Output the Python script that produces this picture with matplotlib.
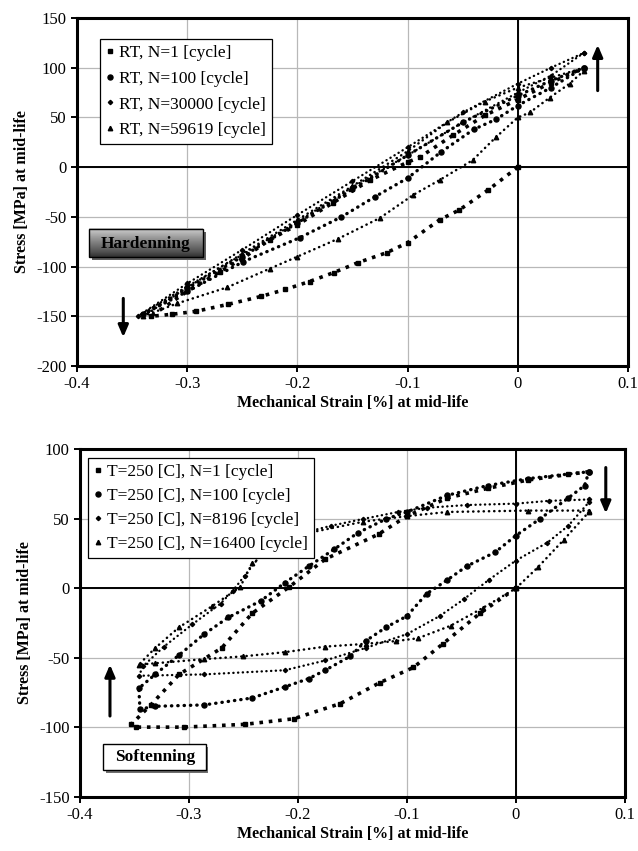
import numpy as np
import matplotlib
matplotlib.use('Agg')
import matplotlib.pyplot as plt

plt.rcParams['font.family'] = ['Liberation Serif', 'DejaVu Serif']
plt.rcParams['axes.unicode_minus'] = False

# ---- room temperature loops (top) ----
rt1_x = [0, -0.027, -0.053, -0.071, -0.1, -0.119, -0.145, -0.167, -0.189, -0.211, -0.233, -0.263, -0.292, -0.314, -0.333,
         -0.3, -0.27, -0.25, -0.225, -0.2, -0.168, -0.134, -0.1, -0.089, -0.059, -0.03, 0, 0.03, 0.06]
rt1_y = [0, -23, -43, -53, -76, -86, -96, -106, -115, -123, -130, -138, -145, -148, -150,
         -125, -105, -92, -73, -58, -36, -13, 5, 10, 32, 52, 68, 85, 100]

rt100_x = [0.06, 0.03, 0, -0.02, -0.04, -0.07, -0.1, -0.13, -0.16, -0.198, -0.249, -0.3, -0.34,
           -0.3, -0.25, -0.2, -0.15, -0.1, -0.05, 0, 0.03, 0.06]
rt100_y = [100, 80, 62, 48, 38, 15, -11, -30, -50, -71, -95, -125, -148,
           -122, -90, -56, -22, 12, 45, 72, 87, 100]

rt30000_x = [0.06, 0.03, 0, -0.05, -0.1, -0.15, -0.2, -0.25, -0.3, -0.345,
             -0.3, -0.25, -0.2, -0.15, -0.1, -0.05, 0, 0.03, 0.06]
rt30000_y = [115, 92, 75, 45, 12, -20, -55, -88, -120, -150,
             -117, -83, -48, -14, 20, 55, 84, 100, 115]

rt59619_x = [0.06, 0.047, 0.029, 0.011, 0, -0.02, -0.041, -0.071, -0.095, -0.125, -0.163, -0.2, -0.225, -0.264, -0.309, -0.34,
             -0.3, -0.25, -0.2, -0.15, -0.1, -0.064, -0.03, 0, 0.03, 0.06]
rt59619_y = [97, 84, 70, 55, 50, 30, 7, -13, -28, -51, -72, -90, -102, -121, -137, -150,
             -121, -87, -53, -19, 16, 45, 66, 80, 90, 100]

rt_labels = ['RT, N=1 [cycle]', 'RT, N=100 [cycle]', 'RT, N=30000 [cycle]', 'RT, N=59619 [cycle]']

# ---- T=250 C loops (bottom) ----
ht1_x = [0, -0.033, -0.067, -0.094, -0.125, -0.161, -0.204, -0.249, -0.305, -0.349,
         -0.353, -0.335, -0.309, -0.27, -0.242, -0.208, -0.175, -0.126, -0.1, -0.063, -0.026, 0.011, 0.048, 0.067]
ht1_y = [0, -18, -40, -57, -68, -83, -94, -98, -100, -100,
         -98, -84, -62, -43, -18, 1, 21, 39, 52, 65, 72, 78, 82, 84]

ht100_x = [0.067, 0.063, 0.048, 0.022, 0, -0.019, -0.045, -0.063, -0.082, -0.1, -0.119, -0.138, -0.152, -0.175, -0.19,
           -0.212, -0.242, -0.286, -0.331, -0.345,
           -0.346, -0.331, -0.309, -0.286, -0.264, -0.234, -0.212, -0.19, -0.167, -0.145, -0.119, -0.1, -0.063, -0.026,
           0.011, 0.067]
ht100_y = [84, 74, 65, 50, 38, 26, 16, 6, -4, -20, -28, -38, -49, -59, -65,
           -71, -79, -84, -85, -87,
           -72, -62, -48, -33, -21, -9, 4, 16, 28, 40, 50, 55, 67, 74,
           79, 84]

ht8196_x = [0.067, 0.03, 0, -0.045, -0.082, -0.108, -0.14, -0.17, -0.2, -0.22, -0.234, -0.249, -0.26, -0.271, -0.297,
            -0.323, -0.342, -0.346,
            -0.286, -0.212, -0.175, -0.138, -0.1, -0.07, -0.048, -0.025, 0, 0.029, 0.048, 0.067]
ht8196_y = [64, 63, 61, 60, 58, 55, 50, 45, 39, 31, 24, 9, -2, -11, -26,
            -42, -56, -63,
            -62, -59, -52, -43, -33, -20, -8, 6, 20, 33, 45, 62]

ht16400_x = [0.067, 0.011, -0.063, -0.1, -0.14, -0.19, -0.219, -0.242, -0.253, -0.279, -0.309, -0.331, -0.346,
             -0.331, -0.286, -0.25, -0.212, -0.175, -0.138, -0.11, -0.09, -0.06, -0.03, 0, 0.02, 0.044, 0.067]
ht16400_y = [56, 56, 55, 52, 48, 40, 30, 18, 1, -13, -28, -43, -55,
             -54, -51, -49, -46, -42, -40, -38, -36, -27, -14, 0, 15, 35, 55]

ht_labels = ['T=250 [C], N=1 [cycle]', 'T=250 [C], N=100 [cycle]',
             'T=250 [C], N=8196 [cycle]', 'T=250 [C], N=16400 [cycle]']

# marker, marker size, dotted line width, dash pattern, capstyle
styles = [('s', 3.2, 2.6, (0, (1.0, 1.6)), 'butt'),
          ('o', 3.6, 2.4, (0, (0.1, 1.8)), 'round'),
          ('D', 2.2, 1.7, (0, (0.1, 1.9)), 'round'),
          ('^', 3.2, 1.8, (0, (0.1, 2.0)), 'round')]


def draw_loops(ax, series, labels):
    handles = []
    for (xs, ys), lab, st in zip(series, labels, styles):
        mk, ms, lw, ls, cap = st
        ax.plot(xs, ys, color='black', lw=lw, linestyle=ls,
                dash_capstyle=cap, zorder=3)
        h, = ax.plot(xs, ys, color='black', marker=mk, ms=ms, lw=0,
                     linestyle='none', label=lab, zorder=4)
        handles.append(h)
    return handles


def style_axes(ax, ylim, yticks):
    ax.set_xlim(-0.4, 0.1)
    ax.set_ylim(*ylim)
    ax.set_xticks([-0.4, -0.3, -0.2, -0.1, 0, 0.1])
    ax.set_xticklabels(['-0.4', '-0.3', '-0.2', '-0.1', '0', '0.1'])
    ax.set_yticks(yticks)
    ax.grid(True, color='#b8b8b8', lw=0.9)
    ax.set_axisbelow(True)
    ax.axhline(0, color='black', lw=1.4, zorder=2)
    ax.axvline(0, color='black', lw=1.4, zorder=2)
    for sp in ax.spines.values():
        sp.set_linewidth(2.2)
    ax.tick_params(direction='out', length=4, width=1.4, labelsize=12)
    ax.set_xlabel('Mechanical Strain [%] at mid-life', fontsize=11.5, fontweight='bold', labelpad=2)
    ax.set_ylabel('Stress [MPa] at mid-life', fontsize=11.5, fontweight='bold', labelpad=4)


def arrow(ax, x, y0, y1):
    ax.annotate('', xy=(x, y1), xytext=(x, y0),
                arrowprops=dict(arrowstyle='-|>,head_length=0.7,head_width=0.3',
                                color='black', lw=2.2, shrinkA=0, shrinkB=0))


fig = plt.figure(figsize=(6.38, 8.51), dpi=100)

# ---------- top ----------
ax1 = fig.add_axes([0.1207, 0.5699, 0.8636, 0.4089])
h1 = draw_loops(ax1, [(rt1_x, rt1_y), (rt100_x, rt100_y), (rt30000_x, rt30000_y), (rt59619_x, rt59619_y)], rt_labels)
style_axes(ax1, (-200, 150), [-200, -150, -100, -50, 0, 50, 100, 150])
leg1 = ax1.legend(handles=h1, loc='upper left', bbox_to_anchor=(0.042, 0.94), fontsize=12.5,
                  frameon=True, fancybox=False, edgecolor='black', framealpha=1, borderaxespad=0,
                  handlelength=0.4, handletextpad=0.35, borderpad=0.35, labelspacing=0.55)
leg1.get_frame().set_linewidth(0.9)
arrow(ax1, 0.0725, 77, 123)
arrow(ax1, -0.358, -132, -171)

# gradient "Hardenning" box with shadow
grad = np.linspace(0, 1, 50).reshape(-1, 1)
ax1.add_patch(plt.Rectangle((-0.386, -93.5), 0.103, 28.2, facecolor='#606060', edgecolor='none', zorder=5))
ax1.imshow(grad, cmap='Greys', vmin=-0.6, vmax=1.3, aspect='auto',
           extent=(-0.389, -0.286, -90.8, -62.6), zorder=6)
ax1.add_patch(plt.Rectangle((-0.389, -90.8), 0.103, 28.2, fill=False, edgecolor='black', lw=1.0, zorder=7))
ax1.text(-0.3375, -77, 'Hardenning', ha='center', va='center', fontsize=12.5, fontweight='bold', zorder=8)

# ---------- bottom ----------
ax2 = fig.add_axes([0.1254, 0.064, 0.854, 0.4078])
h2 = draw_loops(ax2, [(ht1_x, ht1_y), (ht100_x, ht100_y), (ht8196_x, ht8196_y), (ht16400_x, ht16400_y)], ht_labels)
style_axes(ax2, (-150, 100), [-150, -100, -50, 0, 50, 100])
leg2 = ax2.legend(handles=h2, loc='upper left', bbox_to_anchor=(0.015, 0.975), fontsize=12.5,
                  frameon=True, fancybox=False, edgecolor='black', framealpha=1, borderaxespad=0,
                  handlelength=0.4, handletextpad=0.35, borderpad=0.35, labelspacing=0.45)
leg2.get_frame().set_linewidth(0.9)
arrow(ax2, 0.0825, 87, 54)
arrow(ax2, -0.3725, -92, -55)

# "Softenning" box with shadow
ax2.add_patch(plt.Rectangle((-0.3766, -133.3), 0.0945, 18.7, facecolor='#707070', edgecolor='none', zorder=5))
ax2.add_patch(plt.Rectangle((-0.3786, -130.9), 0.0945, 18.7, facecolor='white', edgecolor='black', lw=1.0, zorder=6))
ax2.text(-0.3314, -121.5, 'Softenning', ha='center', va='center', fontsize=12.5, fontweight='bold', zorder=8)

fig.savefig('out.png', dpi=100)
